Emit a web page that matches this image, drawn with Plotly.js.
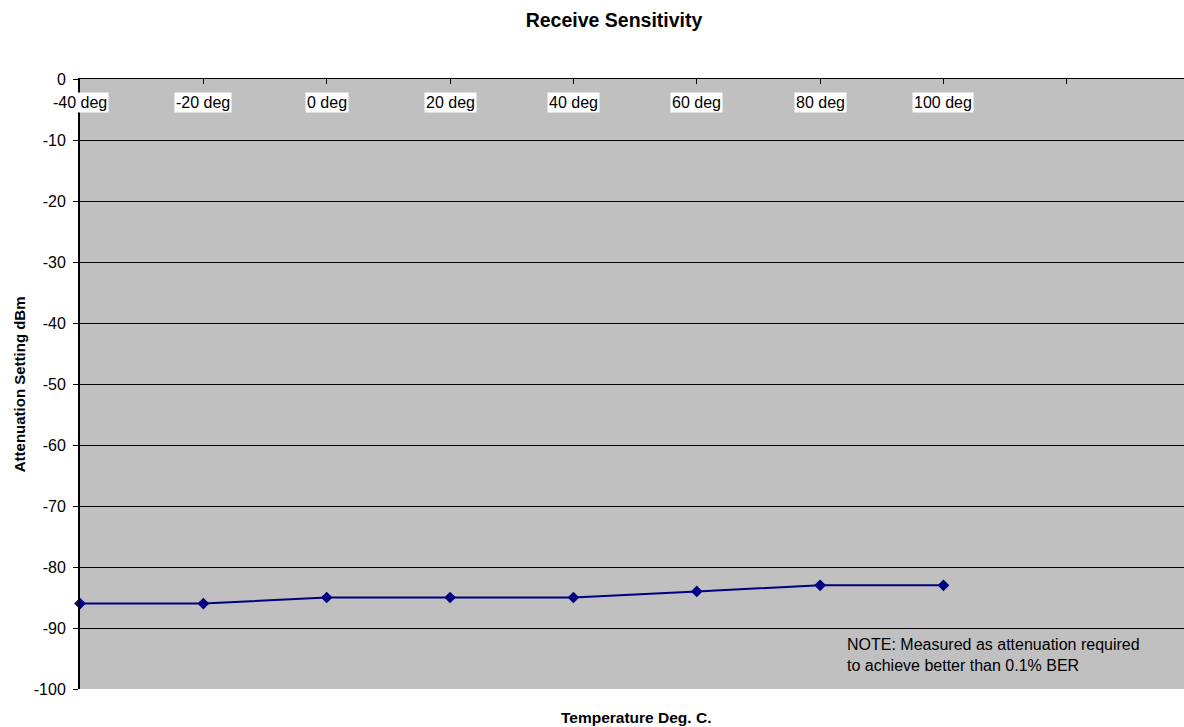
<!DOCTYPE html>
<html>
<head>
<meta charset="utf-8">
<script src="https://cdn.plot.ly/plotly-3.0.1.min.js"></script>
<style>html,body{margin:0;padding:0;background:#fff;overflow:hidden;}#chart{width:1184px;height:727px;}</style>
</head>
<body>
<div id="chart"></div>
<script>
const categories = ["-40 deg", "-20 deg", "0 deg", "20 deg", "40 deg", "60 deg", "80 deg", "100 deg"];
const sensitivity = [-86, -86, -85, -85, -85, -84, -83, -83];
const yTicks = [0, -10, -20, -30, -40, -50, -60, -70, -80, -90, -100];
const yTickLabels = ["0", "-10", "-20", "-30", "-40", "-50", "-60", "-70", "-80", "-90", "-100"];
const noteText = "NOTE: Measured as attenuation required<br>to achieve better than 0.1% BER";

const xIdx = categories.map((c, i) => i);
const FONT = "Liberation Sans, Arial, sans-serif";

const trace = {
  x: xIdx, y: sensitivity, type: "scatter", mode: "lines+markers",
  line: {color: "#000080", width: 2},
  marker: {symbol: "diamond", size: 9, color: "#000080"},
  cliponaxis: false, hoverinfo: "x+y", showlegend: false
};

const annotations = categories.map((c, i) => ({
  x: i, y: -3.8, xref: "x", yref: "y", text: c, showarrow: false,
  xanchor: "center", yanchor: "middle", bgcolor: "#ffffff", borderpad: 1,
  font: {family: FONT, size: 16, color: "#000"}
}));
annotations.push({
  x: 0.693, xref: "paper", y: -91.0, yref: "y", text: noteText, showarrow: false,
  xanchor: "left", yanchor: "top", align: "left",
  font: {family: FONT, size: 16, color: "#000"}
});
annotations.push({
  x: 0.5036, xref: "paper", y: -0.0475, yref: "paper", text: "<b>Temperature Deg. C.</b>", showarrow: false,
  xanchor: "center", yanchor: "middle",
  font: {family: FONT, size: 15.5, color: "#000"}
});
annotations.push({
  x: -0.055, xref: "paper", y: 0.5, yref: "paper", text: "<b>Attenuation Setting dBm</b>", showarrow: false,
  textangle: -90, xanchor: "center", yanchor: "middle",
  font: {family: FONT, size: 15, color: "#000"}
});

const layout = {
  width: 1184, height: 727,
  margin: {l: 80, r: 0, t: 79, b: 38},
  paper_bgcolor: "#ffffff", plot_bgcolor: "#C0C0C0",
  title: {text: "<b>Receive Sensitivity</b>", x: 0.5186, xanchor: "center", y: 0.9725, yanchor: "middle",
          font: {family: FONT, size: 19.5, color: "#000"}},
  xaxis: {
    side: "top", range: [0, 8.95], tickvals: [0,1,2,3,4,5,6,7,8], ticks: "inside", ticklen: 5,
    tickcolor: "#000", tickwidth: 1, showticklabels: false, showgrid: false, zeroline: false,
    showline: true, linecolor: "#000", linewidth: 1.5, fixedrange: true
  },
  xaxis2: {
    overlaying: "x", side: "bottom", anchor: "y", range: [0, 8.95], showticklabels: false, ticks: "",
    showgrid: false, zeroline: false, showline: true, linecolor: "#808080", linewidth: 2
  },
  yaxis: {
    range: [-100, 0], tickvals: yTicks, ticktext: yTickLabels, ticks: "outside", ticklen: 5, tickcolor: "#000",
    showgrid: true, gridcolor: "#000", gridwidth: 1, zeroline: false,
    showline: true, linecolor: "#000", linewidth: 2, ticklabelstandoff: 4,
    tickfont: {family: FONT, size: 16, color: "#000"},
    automargin: false
  },
  annotations: annotations
};

Plotly.newPlot("chart", [trace], layout, {displayModeBar: false, staticPlot: true});
</script>
</body>
</html>
